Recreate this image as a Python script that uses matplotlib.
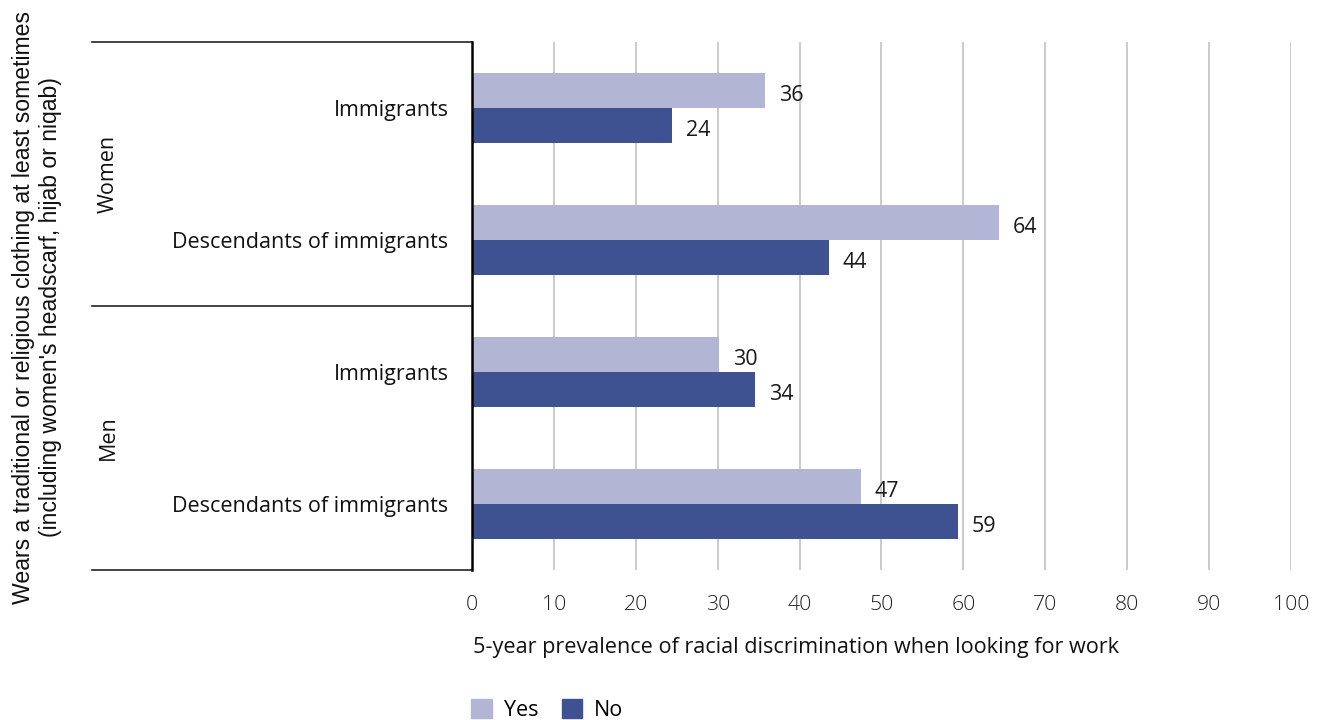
import matplotlib
matplotlib.use("Agg")
import matplotlib.pyplot as plt
from matplotlib.patches import Patch
import numpy as np

plt.rcParams['font.family'] = ['Open Sans', 'DejaVu Sans']

groups = ["Women", "Men"]
categories = ["Immigrants", "Descendants of immigrants",
              "Immigrants", "Descendants of immigrants"]
yes_vals = [35.8, 64.3, 30.2, 47.5]
no_vals = [24.4, 43.6, 34.6, 59.3]
yes_labels = ["36", "64", "30", "47"]
no_labels = ["24", "44", "34", "59"]
xticks = [0, 10, 20, 30, 40, 50, 60, 70, 80, 90, 100]
series_names = ["Yes", "No"]

c_yes = "#b3b5d5"
c_no = "#3e5292"

W, H = 1318, 720
fig = plt.figure(figsize=(W / 100, H / 100), dpi=100)
L, R, T, B = 472, 1291, 42, 570
ax = fig.add_axes([L / W, (H - B) / H, (R - L) / W, (B - T) / H])

y = np.arange(len(categories))
bh = 35 / 132
ax.barh(y - bh / 2, yes_vals, height=bh, color=c_yes, zorder=3)
ax.barh(y + bh / 2, no_vals, height=bh, color=c_no, zorder=3)

for yi, v, lab in zip(y, yes_vals, yes_labels):
    ax.annotate(lab, (v, yi - bh / 2), xytext=(10, -3.5), textcoords="offset points",
                ha="left", va="center", fontsize=15.5, color="#1a1a1a")
for yi, v, lab in zip(y, no_vals, no_labels):
    ax.annotate(lab, (v, yi + bh / 2), xytext=(10, -3.5), textcoords="offset points",
                ha="left", va="center", fontsize=15.5, color="#1a1a1a")

ax.set_xlim(0, 100)
ax.set_ylim(len(categories) - 0.5, -0.5)
ax.set_xticks(xticks)
ax.set_xticklabels([str(t) for t in xticks], fontsize=15.3, fontweight="light", color="#222222")
ax.tick_params(axis="x", length=0, pad=18)
ax.set_yticks(y)
ax.set_yticklabels(categories, fontsize=15.5, color="#111111")
ax.tick_params(axis="y", length=0, pad=17)
ax.grid(axis="x", color="#bdbdbd", linewidth=1.1, zorder=0)
for s in ["top", "right", "bottom"]:
    ax.spines[s].set_visible(False)
ax.spines["left"].set_color("black")
ax.spines["left"].set_linewidth(1.8)
ax.spines["left"].set_zorder(4)

# group separator lines
x0 = (92 - L) / (R - L)
for yy in [1.0, 0.5, 0.0]:
    ax.plot([x0, 0], [yy, yy], transform=ax.transAxes, color="#222222",
            linewidth=1.2, clip_on=False)

# group labels
gx = (108 - L) / (R - L)
for gi, g in enumerate(groups):
    ax.text(gx, 1 - (gi * 0.5 + 0.25), g, transform=ax.transAxes, rotation=90,
            ha="center", va="center", fontsize=15.5, color="#111111")

# y title
fig.text(37 / W, (H - 307) / H,
         "Wears a traditional or religious clothing at least sometimes\n(including women's headscarf, hijab or niqab)",
         rotation=90, ha="center", va="center", fontsize=16.6,
         family=["Liberation Sans", "DejaVu Sans"], linespacing=1.2, color="#111111")

# x title
fig.text(473 / W, (H - 648) / H,
         "5-year prevalence of racial discrimination when looking for work",
         ha="left", va="center", fontsize=15.6, color="#111111")

handles = [Patch(color=c_yes, label=series_names[0]), Patch(color=c_no, label=series_names[1])]
fig.legend(handles=handles, loc="center left", bbox_to_anchor=(452 / W, (H - 710) / H),
           ncol=2, frameon=False, fontsize=15.5, handlelength=0.95, handleheight=0.95,
           handletextpad=0.55, columnspacing=1.1)

fig.savefig("out.png", dpi=100)
